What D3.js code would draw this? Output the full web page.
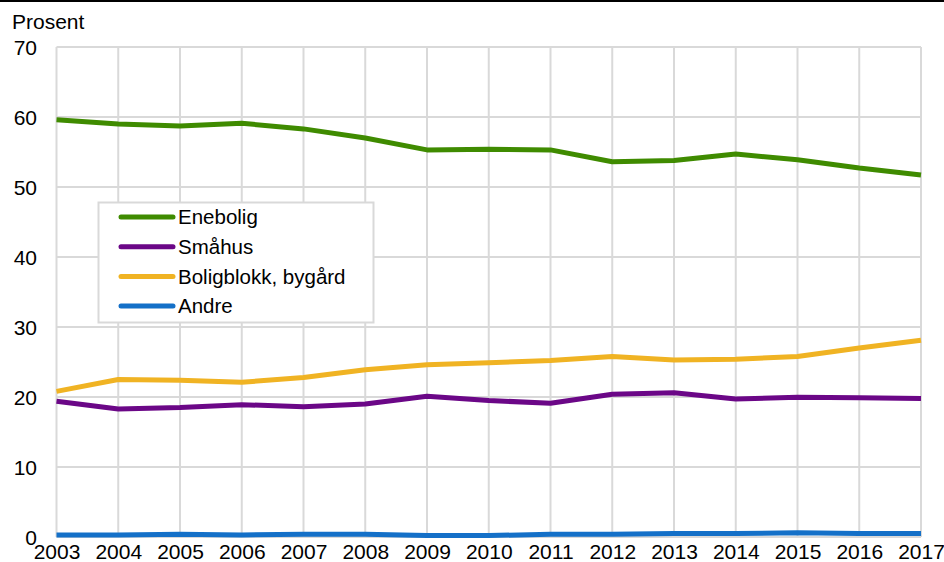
<!DOCTYPE html>
<html><head><meta charset="utf-8">
<script src="https://cdn.jsdelivr.net/npm/d3@7"></script>
<style>body{margin:0;background:#fff;}svg{display:block;font-family:"Liberation Sans",Arial,sans-serif;}</style>
</head><body>
<svg id="c" width="944" height="562"></svg>
<script>
const years = [2003,2004,2005,2006,2007,2008,2009,2010,2011,2012,2013,2014,2015,2016,2017];
const enebolig = [59.6,59.0,58.7,59.1,58.3,57.0,55.3,55.4,55.3,53.6,53.8,54.7,53.9,52.7,51.7];
const smahus = [19.4,18.3,18.5,18.9,18.6,19.0,20.1,19.5,19.1,20.4,20.6,19.7,19.95,19.9,19.8];
const boligblokk = [20.8,22.5,22.4,22.1,22.8,23.9,24.6,24.9,25.2,25.8,25.3,25.4,25.8,27.0,28.1];
const andre = [0.3,0.3,0.4,0.3,0.4,0.4,0.2,0.2,0.4,0.4,0.5,0.5,0.6,0.5,0.5];
const yTicks = [0,10,20,30,40,50,60,70];
const seriesNames = ["Enebolig","Småhus","Boligblokk, bygård","Andre"];
const seriesColors = ["#3f8b00","#6b0787","#f0b323","#1470c8"];
const seriesData = [enebolig, smahus, boligblokk, andre];

const svg = d3.select("#c");
const x = d3.scaleLinear().domain([2003,2017]).range([56.5,921]);
const y = d3.scaleLinear().domain([0,70]).range([537,47]);
const FS = "21px";

// top border
svg.append("line").attr("x1",0).attr("x2",944).attr("y1",1).attr("y2",1)
  .attr("stroke","#000").attr("stroke-width",2);

// gridlines
const grid = svg.append("g");
grid.selectAll(".h").data(yTicks).join("line")
  .attr("x1",x(2003)).attr("x2",x(2017)).attr("y1",d=>y(d)).attr("y2",d=>y(d))
  .attr("stroke","#d9d9d9").attr("stroke-width",2);
grid.selectAll(".v").data(years).join("line")
  .attr("x1",d=>x(d)).attr("x2",d=>x(d)).attr("y1",y(70)).attr("y2",y(0))
  .attr("stroke","#d9d9d9").attr("stroke-width",2);

// y axis labels
const yAxis = d3.axisLeft(y).tickValues(yTicks).tickSize(0).tickPadding(0);
const ya = svg.append("g").attr("transform","translate(37,0)").call(yAxis);
ya.select(".domain").remove();
ya.selectAll("text").attr("font-size",FS).attr("fill","#000").attr("dy","0.36em")
  .style("font-family","'Liberation Sans',Arial,sans-serif");

// x axis labels
const xAxis = d3.axisBottom(x).tickValues(years).tickFormat(d3.format("d")).tickSize(0).tickPadding(0);
const xa = svg.append("g").attr("transform","translate(0,543)").call(xAxis);
xa.select(".domain").remove();
xa.selectAll("text").attr("font-size",FS).attr("fill","#000").attr("dy","0.75em")
  .style("font-family","'Liberation Sans',Arial,sans-serif");

svg.append("text").attr("x",12).attr("y",29).attr("font-size",FS).text("Prosent");

// lines
const line = d3.line().x((d,i)=>x(years[i])).y(d=>y(d));
seriesData.forEach((s,i)=>{
  svg.append("path").datum(s).attr("d",line).attr("fill","none")
    .attr("stroke",seriesColors[i]).attr("stroke-width",5)
    .attr("stroke-linejoin","round").attr("stroke-linecap","butt");
});

// legend
const lg = svg.append("g");
lg.append("rect").attr("x",98.5).attr("y",202.5).attr("width",275).attr("height",120)
  .attr("fill","#fff").attr("stroke","#d9d9d9").attr("stroke-width",2);
seriesNames.forEach((n,i)=>{
  const yy = 217 + i*29.7;
  lg.append("line").attr("x1",121).attr("x2",173).attr("y1",yy).attr("y2",yy)
    .attr("stroke",seriesColors[i]).attr("stroke-width",5).attr("stroke-linecap","round");
  lg.append("text").attr("x",178).attr("y",yy).attr("dy","0.36em").attr("font-size","20.5px").text(n);
});
</script>
</body></html>
